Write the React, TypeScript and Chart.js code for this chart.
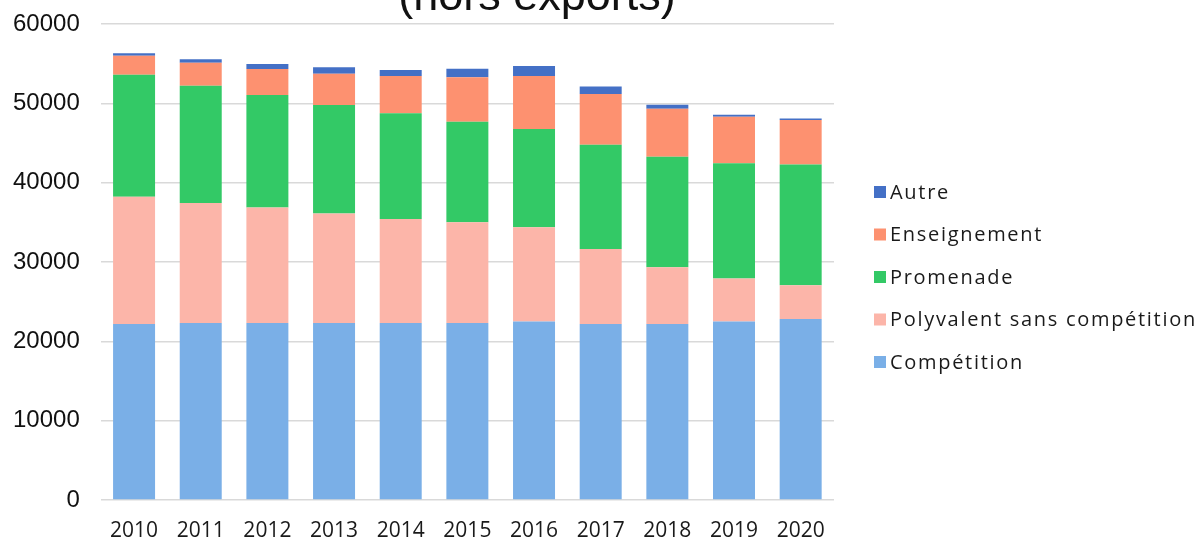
import React, { useEffect, useRef } from "react";
import { Chart, registerables } from "chart.js";

Chart.register(...registerables);

const years = ["2010", "2011", "2012", "2013", "2014", "2015", "2016", "2017", "2018", "2019", "2020"];
const competition = [22200, 22300, 22300, 22300, 22300, 22300, 22500, 22200, 22200, 22500, 22800];
const polyvalent = [16010, 15150, 14570, 13810, 13130, 12710, 11880, 9430, 7130, 5430, 4260];
const promenade = [15400, 14770, 14180, 13680, 13310, 12670, 12370, 13140, 13930, 14520, 15240];
const enseignement = [2400, 2910, 3280, 3950, 4710, 5600, 6700, 6400, 6060, 5850, 5590];
const autre = [300, 420, 630, 800, 750, 1090, 1260, 960, 510, 250, 210];

const seriesNames = ["Compétition", "Polyvalent sans compétition", "Promenade", "Enseignement", "Autre"];
const seriesColors = ["#7aafe7", "#fcb5a9", "#33c966", "#fd9170", "#4470c6"];
const titleText = "(hors exports)";

const titlePlugin = {
  id: "partialTitle",
  afterDraw(chart: any) {
    const ctx = chart.ctx;
    ctx.save();
    ctx.font = '45px "Liberation Sans", Arial, sans-serif';
    ctx.fillStyle = "#111";
    ctx.textAlign = "center";
    ctx.textBaseline = "alphabetic";
    ctx.fillText(titleText, 537, 10);
    ctx.restore();
  },
};

const legendPlugin = {
  id: "sideLegend",
  afterDraw(chart: any) {
    const ctx = chart.ctx;
    const ds = chart.data.datasets.slice().reverse();
    ctx.save();
    ctx.font = '20px "Open Sans", sans-serif';
    try {
      (ctx as any).letterSpacing = "1.7px";
    } catch (e) {}
    ctx.textBaseline = "middle";
    ctx.textAlign = "left";
    ds.forEach((d: any, i: number) => {
      const y = 192 + i * 42.5;
      ctx.fillStyle = d.backgroundColor;
      ctx.fillRect(874, y - 6, 12, 12);
      ctx.fillStyle = "#1a1a1a";
      ctx.fillText(d.label, 890, y + 1);
    });
    ctx.restore();
  },
};

export default function App() {
  const ref = useRef<HTMLCanvasElement | null>(null);

  useEffect(() => {
    if (!ref.current) return;
    const values = [competition, polyvalent, promenade, enseignement, autre];
    const chart = new Chart(ref.current, {
      type: "bar",
      data: {
        labels: years,
        datasets: values.map((v, i) => ({
          label: seriesNames[i],
          data: v,
          backgroundColor: seriesColors[i],
          borderWidth: 0,
          categoryPercentage: 1,
          barPercentage: 0.63,
        })),
      },
      options: {
        animation: false,
        responsive: true,
        maintainAspectRatio: false,
        layout: { padding: { left: -8, right: 368, top: 24, bottom: -24 } },
        plugins: {
          legend: { display: false },
          title: { display: false },
          tooltip: { enabled: false },
        },
        scales: {
          x: {
            stacked: true,
            grid: { display: false, drawTicks: false },
            border: { display: false },
            ticks: {
              color: "#1a1a1a",
              font: { family: '"Open Sans", sans-serif', size: 21, lineHeight: 1 },
              padding: 21,
            },
          },
          y: {
            stacked: true,
            min: 0,
            max: 60000,
            border: { display: false },
            grid: { color: "#d9d9d9", lineWidth: 1.5, drawTicks: false },
            afterFit: (scale: any) => {
              scale.paddingTop = 0;
              scale.paddingBottom = 0;
            },
            ticks: {
              stepSize: 10000,
              color: "#111",
              font: { family: '"Liberation Sans", Arial, sans-serif', size: 24 },
              padding: 21,
              callback: (v: any) => String(v),
            },
          },
        },
      },
      plugins: [titlePlugin, legendPlugin],
    });
    return () => chart.destroy();
  }, []);

  return (
    <div style={{ position: "fixed", left: 0, top: 0, width: 1202, height: 539, background: "#fff" }}>
      <canvas ref={ref} />
    </div>
  );
}
